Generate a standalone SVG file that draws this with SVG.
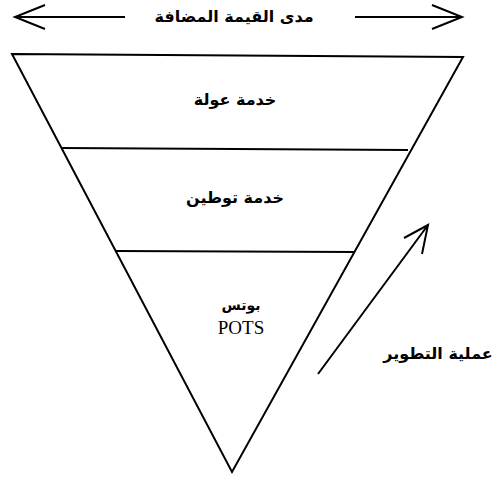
<svg xmlns="http://www.w3.org/2000/svg" width="496" height="483" viewBox="0 0 496 483">
  <style>
    .ln { stroke: #000; stroke-width: 2; fill: none; stroke-linejoin: miter; }
    .ar { font-family: "DejaVu Sans", "Noto Sans", sans-serif; font-weight: bold; font-size: 16px; fill: #000; text-anchor: middle; }
    .lat { font-family: "Liberation Serif", serif; font-size: 19px; fill: #000; text-anchor: middle; }
  </style>
  <rect width="496" height="483" fill="#fff"/>

  <!-- value range arrow -->
  <g id="value-range">
    <path class="ln" d="M15,17 H125 M45,5 L15,17 L45,29"/>
    <path class="ln" d="M355,17 H462 M432,5 L462,17 L432,29"/>
    <text class="ar" x="234" y="22" direction="rtl">مدى القيمة المضافة</text>
  </g>

  <!-- inverted pyramid -->
  <g id="pyramid">
    <path class="ln" d="M12,54 L463,57 L232,472 Z"/>
  </g>

  <g id="tier-global">
    <text class="ar" x="235" y="105" direction="rtl">خدمة عولة</text>
  </g>
  <g id="divider-1">
    <line class="ln" x1="62" y1="148" x2="408" y2="150"/>
  </g>
  <g id="tier-local">
    <text class="ar" x="235" y="203" direction="rtl">خدمة توطين</text>
  </g>
  <g id="divider-2">
    <line class="ln" x1="116" y1="251" x2="355" y2="252"/>
  </g>
  <g id="tier-pots">
    <text class="ar" x="241" y="310" direction="rtl" style="font-size:14px">بوتس</text>
    <text class="lat" x="241" y="334">POTS</text>
  </g>

  <!-- evolution process arrow -->
  <g id="connectors">
    <path class="ln" d="M318,374 L428,225 M404,238 L428,225 L422,254"/>
  </g>
  <g id="evolution-label">
    <text class="ar" x="438" y="359" direction="rtl">عملية التطوير</text>
  </g>
</svg>
